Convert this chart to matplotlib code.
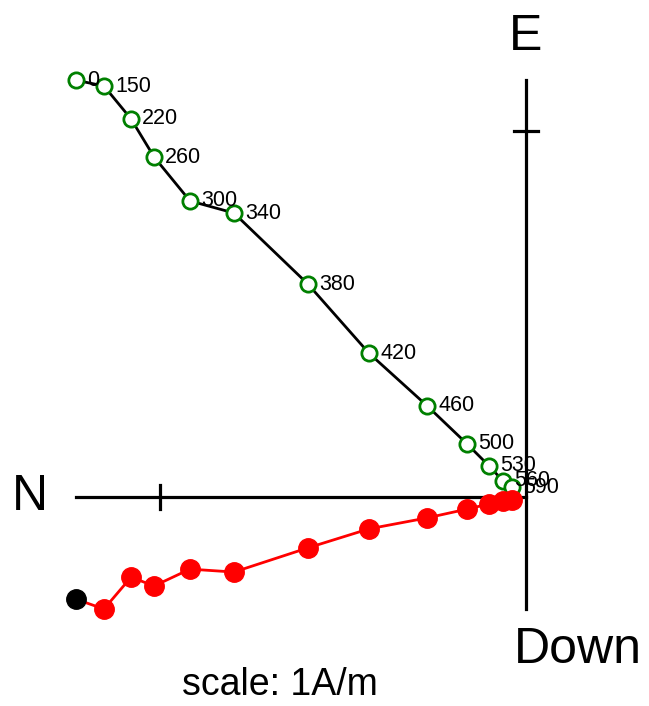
import numpy as np
import matplotlib
matplotlib.use("Agg")
import matplotlib.pyplot as plt

plt.rcParams['font.family'] = ['Liberation Sans', 'DejaVu Sans']

# demag steps and components (A/m)
temps = [0, 150, 220, 260, 300, 340, 380, 420, 460, 500, 530, 560, 590]
north = [1.230, 1.153, 1.079, 1.016, 0.918, 0.798, 0.596, 0.429, 0.270, 0.161, 0.101, 0.063, 0.038]
east = [1.139, 1.123, 1.033, 0.929, 0.809, 0.776, 0.582, 0.393, 0.249, 0.145, 0.085, 0.044, 0.027]
down = [0.279, 0.306, 0.219, 0.243, 0.197, 0.205, 0.139, 0.087, 0.057, 0.033, 0.019, 0.011, 0.008]
scale = 1.0  # A/m

north = np.array(north)
east = np.array(east)
up = -np.array(down)

fig = plt.figure(figsize=(6.49, 7.06), dpi=100)
ax = fig.add_axes([0, 0, 1, 1])
ax.set_xlim(1.437, -0.336)
ax.set_ylim(-0.571, 1.358)
ax.axis('off')

# axes lines
ax.plot([north.max(), 0], [0, 0], color='k', lw=2.3)
ax.plot([0, 0], [east.max(), up.min()], color='k', lw=2.3)
ax.plot([scale, scale], [-0.033, 0.033], color='k', lw=2.3)
ax.plot([-0.033, 0.033], [scale, scale], color='k', lw=2.3)

# horizontal projection
ax.plot(north, east, color='k', lw=2, zorder=2)
ax.plot(north, east, 'o', mfc='white', mec='green', mew=2, ms=11, zorder=3)

# vertical projection
ax.plot(north, up, color='red', lw=2, zorder=2)
ax.plot(north[1:], up[1:], 'o', color='red', ms=14, zorder=3)
ax.plot(north[0], up[0], 'o', color='k', ms=14, zorder=3)

for t, x, y in zip(temps, north, east):
    ax.annotate(str(t), (x, y), xytext=(8, 0), textcoords='offset points',
                ha='left', va='center', fontsize=15.5)

ax.text(north.max() + 0.125, 0, 'N', fontsize=36, ha='center', va='center')
ax.text(0, 1.257, 'E', fontsize=36, ha='center', va='center')
ax.text(0.033, -0.418, 'Down', fontsize=36, ha='left', va='center')
ax.text(0.671, -0.514, 'scale: %gA/m' % scale, fontsize=27, ha='center', va='center')

fig.savefig('out.png', dpi=100)
